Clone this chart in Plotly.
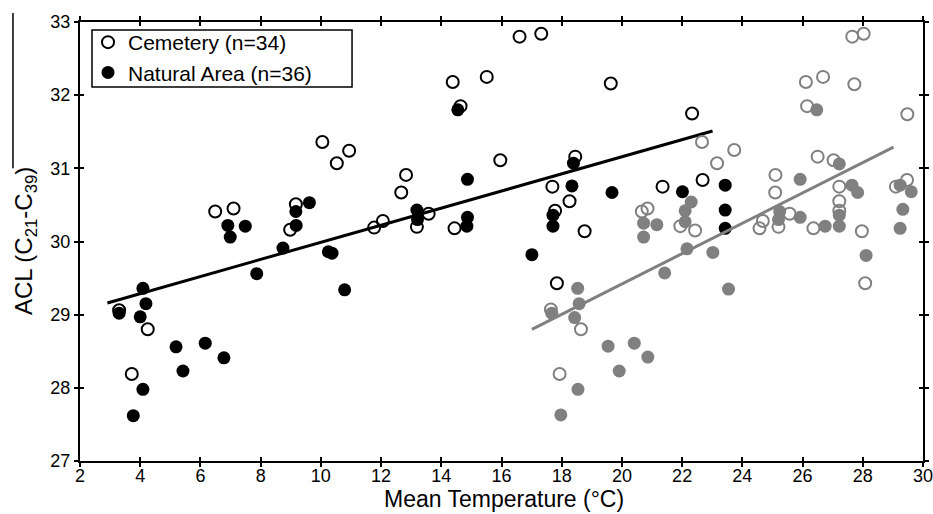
import plotly.graph_objects as go

# Cemetery (open) vs mean temperature (black set)
cem_x = [3.30, 3.72, 4.25, 6.49, 7.10, 9.17, 8.98, 10.05, 10.53, 10.94, 14.38, 15.51, 16.60, 17.32,
         19.63, 14.64, 15.96, 12.83, 12.67, 18.45, 17.69, 18.26, 17.78, 18.76, 13.19, 13.58, 11.77,
         12.06, 14.44, 22.33, 21.35, 22.68, 17.84]
cem_y = [29.06, 28.19, 28.80, 30.41, 30.45, 30.51, 30.16, 31.36, 31.07, 31.24, 32.18, 32.25, 32.80, 32.84,
         32.16, 31.85, 31.11, 30.91, 30.67, 31.16, 30.75, 30.55, 30.42, 30.14, 30.20, 30.38, 30.19,
         30.28, 30.18, 31.75, 30.75, 30.84, 29.43]

# Natural Area (filled) vs mean temperature (black set)
nat_x = [3.30, 4.09, 4.19, 4.00, 4.09, 3.77, 5.19, 5.42, 6.16, 6.78, 7.87, 8.74, 6.91, 6.99, 7.49,
         9.62, 9.17, 9.18, 10.25, 10.37, 10.79, 14.55, 14.87, 13.19, 13.21, 14.87, 14.85, 17.01,
         18.39, 18.34, 19.67, 17.71, 17.71, 22.01, 23.43, 23.43, 23.43]
nat_y = [29.02, 29.36, 29.15, 28.97, 27.98, 27.62, 28.56, 28.23, 28.61, 28.41, 29.56, 29.91, 30.22, 30.06, 30.21,
         30.53, 30.41, 30.22, 29.86, 29.84, 29.34, 31.80, 30.85, 30.43, 30.30, 30.33, 30.21, 29.82,
         31.07, 30.76, 30.67, 30.36, 30.21, 30.68, 30.77, 30.43, 30.18]

# Cemetery (open) - gray set
cem2_x = [17.64, 18.64, 17.93, 20.66, 20.85, 21.94, 22.43, 22.66, 23.16, 23.73, 26.11, 26.68, 27.65, 28.03,
          27.72, 26.15, 29.48, 26.50, 27.03, 25.10, 25.09, 27.22, 27.22, 27.22, 27.97, 26.36, 29.10,
          29.47, 25.20, 25.57, 24.57, 24.68, 28.08]
cem2_y = [29.07, 28.80, 28.19, 30.41, 30.45, 30.21, 30.15, 31.36, 31.07, 31.25, 32.18, 32.25, 32.80, 32.84,
          32.15, 31.85, 31.74, 31.16, 31.11, 30.91, 30.67, 30.75, 30.55, 30.42, 30.14, 30.18, 30.75,
          30.84, 30.20, 30.38, 30.18, 30.28, 29.43]

# Natural Area (filled) - gray set
nat2_x = [18.53, 18.58, 17.67, 18.43, 19.54, 20.41, 20.86, 19.91, 18.54, 17.97, 21.42, 22.16, 23.02, 23.54,
          20.72, 21.16, 20.72, 22.30, 22.10, 22.10, 26.47, 27.22, 25.92, 27.64, 27.83, 27.22, 27.22,
          25.92, 26.75, 29.24, 29.61, 29.33, 29.24, 25.24, 25.20, 28.11]
nat2_y = [29.36, 29.15, 29.02, 28.96, 28.57, 28.61, 28.42, 28.23, 27.98, 27.63, 29.57, 29.90, 29.85, 29.35,
          30.25, 30.23, 30.06, 30.54, 30.42, 30.27, 31.80, 31.06, 30.85, 30.77, 30.67, 30.36, 30.21,
          30.33, 30.21, 30.77, 30.68, 30.44, 30.18, 30.41, 30.30, 29.81]

# Regression line endpoints
fit1_x = [2.91, 23.01]
fit1_y = [29.16, 31.51]
fit2_x = [17.01, 29.02]
fit2_y = [28.80, 31.29]

x_ticks = list(range(2, 31, 2))
y_ticks = list(range(27, 34))

x_title = "Mean Temperature (°C)"
y_title = "ACL (C<sub>21</sub>-C<sub>39</sub>)"

BLACK = "#000000"
GRAY = "#808080"
FONT = "Liberation Sans, Arial, sans-serif"

fig = go.Figure()

def open_pts(x, y, color, name, legend):
    return go.Scatter(x=x, y=y, mode="markers", name=name, showlegend=legend,
                      marker=dict(symbol="circle-open", size=12, color=color, line=dict(width=2, color=color)),
                      hoverinfo="x+y")

def filled_pts(x, y, color, name, legend):
    return go.Scatter(x=x, y=y, mode="markers", name=name, showlegend=legend,
                      marker=dict(symbol="circle", size=13, color=color, line=dict(width=0)),
                      hoverinfo="x+y")

fig.add_trace(open_pts(cem_x, cem_y, BLACK, "Cemetery (n=34)", True))
fig.add_trace(filled_pts(nat_x, nat_y, BLACK, "Natural Area (n=36)", True))
fig.add_trace(go.Scatter(x=fit1_x, y=fit1_y, mode="lines", line=dict(color=BLACK, width=3), showlegend=False))
fig.add_trace(open_pts(cem2_x, cem2_y, GRAY, "Cemetery", False))
fig.add_trace(filled_pts(nat2_x, nat2_y, GRAY, "Natural Area", False))
fig.add_trace(go.Scatter(x=fit2_x, y=fit2_y, mode="lines", line=dict(color=GRAY, width=3), showlegend=False))
# helper trace so the inward tick axes are drawn
fig.add_trace(go.Scatter(x=[None], y=[None], xaxis="x2", yaxis="y2", showlegend=False, hoverinfo="skip"))

axis_common = dict(showgrid=False, zeroline=False, linecolor=BLACK, linewidth=2, automargin=False,
                   tickcolor=BLACK, tickwidth=1.5, ticklen=4, ticks="outside", mirror="ticks",
                   ticklabeloverflow="allow",
                   tickfont=dict(family=FONT, size=18, color=BLACK))

fig.update_layout(
    width=933, height=514,
    margin=dict(l=80, r=10, t=22, b=53),
    paper_bgcolor="white", plot_bgcolor="white",
    font=dict(family=FONT, color=BLACK),
    xaxis=dict(range=[2, 30], tickvals=x_ticks, ticktext=[str(v) for v in x_ticks],
               ticklabelstandoff=-7, **axis_common),
    yaxis=dict(range=[27, 33], tickvals=y_ticks, ticktext=[str(v) for v in y_ticks],
               **axis_common),
    xaxis2=dict(range=[2, 30], tickvals=x_ticks, overlaying="x", anchor="y2", showticklabels=False,
                showgrid=False, zeroline=False, showline=False, ticks="inside", mirror="ticks",
                tickcolor=BLACK, tickwidth=1.5, ticklen=4, automargin=False),
    yaxis2=dict(range=[27, 33], tickvals=y_ticks, overlaying="y", anchor="x2", showticklabels=False,
                showgrid=False, zeroline=False, showline=False, ticks="inside", mirror="ticks",
                tickcolor=BLACK, tickwidth=1.5, ticklen=4, automargin=False),
    legend=dict(x=0.0095, y=1.0, xanchor="left", yanchor="top", bgcolor="rgba(0,0,0,0)",
                borderwidth=0, font=dict(family=FONT, size=21, color=BLACK),
                tracegroupgap=0, itemwidth=30),
    annotations=[
        dict(text=x_title, xref="paper", yref="paper", x=0.503, y=-0.087, xanchor="center", yanchor="middle",
             showarrow=False, font=dict(family=FONT, size=23, color=BLACK)),
        dict(text=y_title, xref="paper", yref="paper", x=-0.0652, y=0.501, xanchor="center", yanchor="middle",
             textangle=-90, showarrow=False, font=dict(family=FONT, size=24, color=BLACK)),
    ],
    shapes=[
        dict(type="line", xref="paper", yref="paper", x0=-0.0795, x1=-0.0795, y0=1.0205, y1=0.667,
             line=dict(color=BLACK, width=1.5)),
        dict(type="rect", xref="paper", yref="paper", x0=0.01423, x1=0.3227, y0=0.8519, y1=0.9818,
             line=dict(color=BLACK, width=1.5), fillcolor="rgba(0,0,0,0)"),
    ],
)

fig.write_html("out.html", config={"displayModeBar": False},
               post_script="document.body.style.margin='0';document.body.style.overflow='hidden';")
